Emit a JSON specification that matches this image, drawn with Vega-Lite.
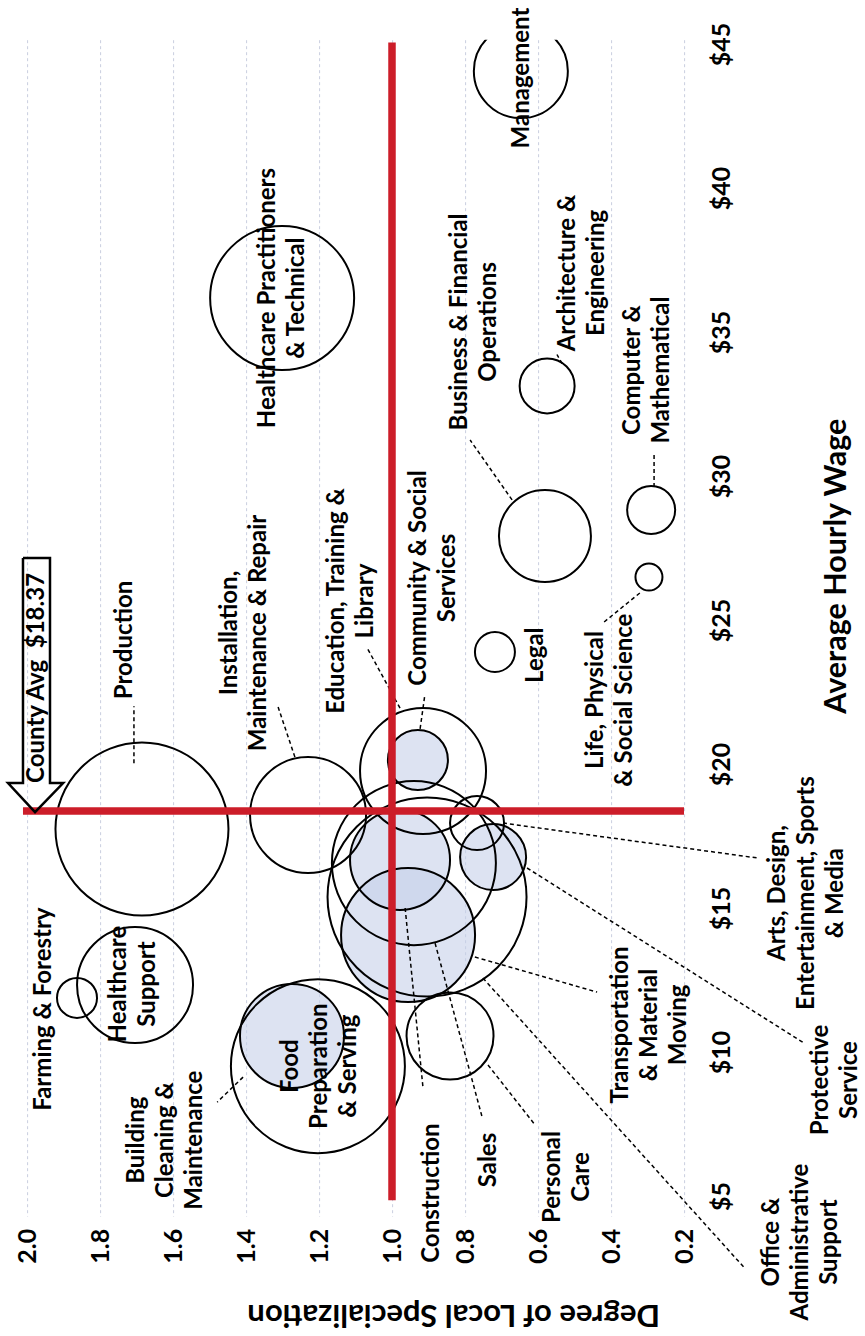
{
  "$schema": "https://vega.github.io/schema/vega-lite/v6.json",
  "width": 693.5,
  "height": 1176.5,
  "autosize": {"type": "none"},
  "padding": {"left": 5.1, "top": 39.7, "right": 166.4, "bottom": 119.8},
  "background": "white",
  "config": {"view": {"stroke": null}, "font": "Lato"},
  "datasets": {
    "bubbles": [
      {"occ": "Management", "s": 0.647, "w": 44.06, "emp": 22090},
      {"occ": "Healthcare Practitioners & Technical", "s": 1.301, "w": 36.18, "emp": 51840},
      {"occ": "Business & Financial Operations", "s": 0.581, "w": 27.92, "emp": 21160},
      {"occ": "Architecture & Engineering", "s": 0.575, "w": 33.13, "emp": 7563},
      {"occ": "Computer & Mathematical", "s": 0.29, "w": 28.82, "emp": 5760},
      {"occ": "Life, Physical & Social Science", "s": 0.296, "w": 26.49, "emp": 1823},
      {"occ": "Legal", "s": 0.718, "w": 23.89, "emp": 4000},
      {"occ": "Production", "s": 1.685, "w": 17.74, "emp": 74823},
      {"occ": "Installation, Maintenance & Repair", "s": 1.23, "w": 18.23, "emp": 33640},
      {"occ": "Education, Training & Library", "s": 0.915, "w": 19.76, "emp": 39690},
      {"occ": "Community & Social Services", "s": 0.929, "w": 20.14, "emp": 9000},
      {"occ": "Arts, Design, Entertainment, Sports & Media", "s": 0.767, "w": 17.95, "emp": 7290},
      {"occ": "Protective Service", "s": 0.723, "w": 16.77, "emp": 10890},
      {"occ": "Construction", "s": 0.978, "w": 16.67, "emp": 25000},
      {"occ": "Sales", "s": 0.94, "w": 16.56, "emp": 67240},
      {"occ": "Office & Administrative Support", "s": 0.904, "w": 15.38, "emp": 99003},
      {"occ": "Transportation & Material Moving", "s": 0.956, "w": 14.06, "emp": 44890},
      {"occ": "Personal Care", "s": 0.841, "w": 10.56, "emp": 18923},
      {"occ": "Food Preparation & Serving", "s": 1.203, "w": 9.51, "emp": 75690},
      {"occ": "Building Cleaning & Maintenance", "s": 1.274, "w": 10.56, "emp": 27040},
      {"occ": "Healthcare Support", "s": 1.704, "w": 12.33, "emp": 33640},
      {"occ": "Farming & Forestry", "s": 1.863, "w": 11.88, "emp": 4000}
    ],
    "labels": [
      {"txt": "Management", "s": 0.644, "w": 43.82},
      {"txt": "Healthcare Practitioners\n& Technical", "s": 1.339, "w": 36.18},
      {"txt": "Business & Financial\nOperations", "s": 0.813, "w": 35.35},
      {"txt": "Architecture &\nEngineering", "s": 0.519, "w": 37.05},
      {"txt": "Computer &\nMathematical", "s": 0.339, "w": 33.68},
      {"txt": "Life, Physical\n& Social Science", "s": 0.44, "w": 22.22},
      {"txt": "Legal", "s": 0.605, "w": 23.78},
      {"txt": "Production", "s": 1.732, "w": 24.31},
      {"txt": "Installation,\nMaintenance & Repair", "s": 1.443, "w": 24.55},
      {"txt": "Education, Training &\nLibrary", "s": 1.15, "w": 25.66},
      {"txt": "Community & Social\nServices", "s": 0.925, "w": 26.46},
      {"txt": "Arts, Design,\nEntertainment, Sports\n& Media", "s": -0.058, "w": 15.52},
      {"txt": "Protective\nService", "s": -0.176, "w": 9.03},
      {"txt": "Construction", "s": 0.89, "w": 5.1},
      {"txt": "Sales", "s": 0.734, "w": 6.25},
      {"txt": "Personal\nCare", "s": 0.558, "w": 5.66},
      {"txt": "Transportation\n& Material\nMoving", "s": 0.373, "w": 10.94},
      {"txt": "Office &\nAdministrative\nSupport", "s": -0.042, "w": 3.4},
      {"txt": "Food\nPreparation\n& Serving", "s": 1.277, "w": 9.51},
      {"txt": "Building\nCleaning &\nMaintenance", "s": 1.699, "w": 6.94},
      {"txt": "Healthcare\nSupport", "s": 1.747, "w": 12.36},
      {"txt": "Farming & Forestry", "s": 1.953, "w": 11.49},
      {"txt": "County Avg\u00a0 $18.37", "s": 1.973, "w": 22.99}
    ],
    "leaders": [
      {"s": 1.707, "w": 20.03, "s2": 1.707, "w2": 22.01},
      {"s": 1.266, "w": 20.24, "s2": 1.312, "w2": 21.98},
      {"s": 0.978, "w": 21.94, "s2": 1.068, "w2": 24.03},
      {"s": 0.923, "w": 21.22, "s2": 0.91, "w2": 22.4},
      {"s": 0.671, "w": 29.17, "s2": 0.786, "w2": 31.25},
      {"s": 0.534, "w": 33.9, "s2": 0.548, "w2": 34.22},
      {"s": 0.282, "w": 29.62, "s2": 0.282, "w2": 30.73},
      {"s": 0.321, "w": 25.94, "s2": 0.419, "w2": 24.93},
      {"s": 1.408, "w": 9.13, "s2": 1.479, "w2": 8.26},
      {"s": 0.964, "w": 15.0, "s2": 0.915, "w2": 8.75},
      {"s": 0.882, "w": 13.78, "s2": 0.753, "w2": 7.74},
      {"s": 0.737, "w": 9.55, "s2": 0.608, "w2": 7.47},
      {"s": 0.773, "w": 13.3, "s2": 0.438, "w2": 12.08},
      {"s": 0.751, "w": 12.57, "s2": 0.036, "w2": 2.53},
      {"s": 0.63, "w": 16.39, "s2": -0.129, "w2": 10.31},
      {"s": 0.696, "w": 17.95, "s2": 0.0, "w2": 16.74}
    ],
    "reflines": [
      {"s": 1.0, "w": 4.85, "s2": 1.0, "w2": 45.05},
      {"s": 2.011, "w": 18.37, "s2": 0.2, "w2": 18.37}
    ],
    "arrow": [
      {"o": 1, "s": 2.011, "w": 27.15},
      {"o": 2, "s": 1.937, "w": 27.15},
      {"o": 3, "s": 1.937, "w": 19.34},
      {"o": 4, "s": 1.901, "w": 19.34},
      {"o": 5, "s": 1.978, "w": 18.33},
      {"o": 6, "s": 2.052, "w": 19.34},
      {"o": 7, "s": 2.011, "w": 19.34},
      {"o": 8, "s": 2.011, "w": 27.15}
    ]
  },
  "encoding": {
    "x": {
      "field": "s",
      "type": "quantitative",
      "scale": {"domain": [0.16, 2.06], "reverse": true, "nice": false, "zero": false},
      "axis": {
        "values": [0.2, 0.4, 0.6, 0.8, 1.0, 1.2, 1.4, 1.6, 1.8, 2.0],
        "format": ".1f",
        "labelAngle": 270,
        "labelAlign": "right",
        "labelBaseline": "middle",
        "labelFont": "Lato",
        "labelFontSize": 25,
        "labelFontWeight": "bold",
        "labelColor": "black",
        "labelPadding": 12,
        "labelOverlap": false,
        "labelBound": false,
        "labelFlush": false,
        "ticks": false,
        "domain": false,
        "grid": true,
        "gridColor": "#c9cedf",
        "gridDash": [3, 3],
        "gridWidth": 1,
        "title": "Degree of Local Specialization",
        "titleAngle": 180,
        "titleFont": "Lato",
        "titleFontSize": 31,
        "titleFontWeight": "bold",
        "titleColor": "black",
        "titleX": 448,
        "titleY": 97,
        "titleAlign": "center",
        "titleBaseline": "middle"
      }
    },
    "y": {
      "field": "w",
      "type": "quantitative",
      "scale": {"domain": [4.3, 45.15], "nice": false, "zero": false},
      "axis": {
        "orient": "right",
        "values": [5, 10, 15, 20, 25, 30, 35, 40, 45],
        "labelExpr": "'$' + datum.value",
        "labelAngle": 270,
        "labelAlign": "center",
        "labelBaseline": "top",
        "labelFont": "Lato",
        "labelFontSize": 25,
        "labelFontWeight": "bold",
        "labelColor": "black",
        "labelPadding": 11,
        "labelOverlap": false,
        "labelBound": false,
        "labelFlush": false,
        "ticks": false,
        "domain": false,
        "grid": false,
        "title": "Average Hourly Wage",
        "titleAngle": 270,
        "titleFont": "Lato",
        "titleFontSize": 30.5,
        "titleFontWeight": "bold",
        "titleColor": "black",
        "titleX": 138,
        "titleY": 526,
        "titleAlign": "center",
        "titleBaseline": "middle"
      }
    }
  },
  "layer": [
    {
      "data": {"name": "bubbles"},
      "transform": [
        {"filter": "indexof(['Community & Social Services','Construction','Transportation & Material Moving','Protective Service','Building Cleaning & Maintenance'], datum.occ) >= 0"}
      ],
      "mark": {"type": "circle", "color": "#c6d0ea", "opacity": 0.6, "strokeWidth": 0, "clip": true},
      "encoding": {
        "size": {"field": "emp", "type": "quantitative", "scale": {"type": "linear", "domain": [0, 100000], "range": [0, 40000]}, "legend": null}
      }
    },
    {
      "data": {"name": "bubbles"},
      "mark": {"type": "point", "shape": "circle", "filled": false, "stroke": "black", "strokeWidth": 2, "opacity": 1, "clip": true},
      "encoding": {
        "size": {"field": "emp", "type": "quantitative", "scale": {"type": "linear", "domain": [0, 100000], "range": [0, 40000]}, "legend": null}
      }
    },
    {
      "data": {"name": "leaders"},
      "mark": {"type": "rule", "color": "black", "strokeWidth": 1.5, "strokeDash": [4, 3]},
      "encoding": {
        "x2": {"field": "s2"},
        "y2": {"field": "w2"}
      }
    },
    {
      "data": {"name": "reflines"},
      "mark": {"type": "rule", "color": "#cc1d29", "strokeWidth": 7.5},
      "encoding": {
        "x2": {"field": "s2"},
        "y2": {"field": "w2"}
      }
    },
    {
      "data": {"name": "arrow"},
      "mark": {"type": "line", "color": "black", "strokeWidth": 2.5},
      "encoding": {
        "order": {"field": "o", "type": "quantitative"}
      }
    },
    {
      "data": {"name": "labels"},
      "mark": {"type": "text", "angle": 270, "font": "Lato", "fontSize": 24, "fontWeight": "bold", "lineBreak": "\n", "lineHeight": 29, "align": "center", "baseline": "middle", "color": "black"},
      "encoding": {
        "text": {"field": "txt", "type": "nominal"}
      }
    }
  ]
}
